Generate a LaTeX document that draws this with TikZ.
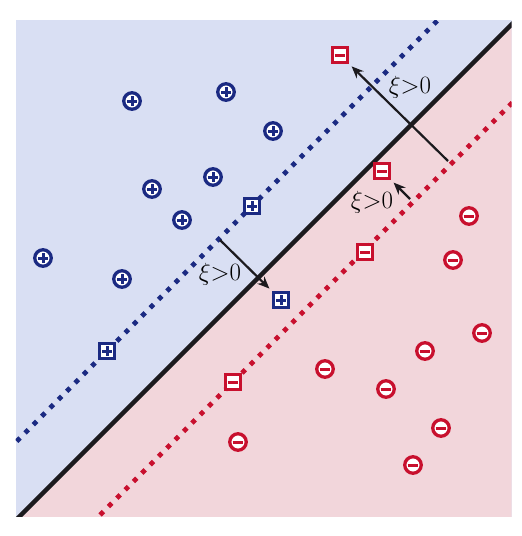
\documentclass[tikz,border=0pt]{standalone}
\usetikzlibrary{arrows.meta}
\definecolor{navyc}{RGB}{27,42,130}
\definecolor{redc}{RGB}{200,16,46}
\definecolor{bluebg}{RGB}{217,223,243}
\definecolor{pinkbg}{RGB}{242,214,219}
\definecolor{blk}{RGB}{28,26,30}
\tikzset{
  posc/.style={circle, draw=navyc, line width=3.3pt, fill=white, minimum size=16.5pt, inner sep=0pt,
    path picture={\draw[navyc, line width=3pt] ([xshift=-4.8pt]path picture bounding box.center) -- ([xshift=4.8pt]path picture bounding box.center);
                  \draw[navyc, line width=3pt] ([yshift=-4.8pt]path picture bounding box.center) -- ([yshift=4.8pt]path picture bounding box.center);}},
  negc/.style={circle, draw=redc, line width=3.3pt, fill=white, minimum size=16.5pt, inner sep=0pt,
    path picture={\draw[redc, line width=3pt] ([xshift=-5.4pt]path picture bounding box.center) -- ([xshift=5.4pt]path picture bounding box.center);}},
  poss/.style={rectangle, draw=navyc, line width=3pt, fill=white, minimum size=14.5pt, inner sep=0pt,
    path picture={\draw[navyc, line width=3pt] ([xshift=-4.8pt]path picture bounding box.center) -- ([xshift=4.8pt]path picture bounding box.center);
                  \draw[navyc, line width=3pt] ([yshift=-4.8pt]path picture bounding box.center) -- ([yshift=4.8pt]path picture bounding box.center);}},
  negs/.style={rectangle, draw=redc, line width=3pt, fill=white, minimum size=14.5pt, inner sep=0pt,
    path picture={\draw[redc, line width=3pt] ([xshift=-5.2pt]path picture bounding box.center) -- ([xshift=5.2pt]path picture bounding box.center);}},
  margin/.style={line width=4.7pt, dash pattern=on 4.7pt off 7.1pt},
  slack/.style={blk, line width=2.2pt, -{Stealth[length=12pt,width=10pt]}, shorten >=4pt},
  lbl/.style={inner sep=0pt, font=\fontsize{26}{30}\selectfont}
}
\begin{document}
\begin{tikzpicture}[x=1pt,y=-1pt]
\useasboundingbox (0,0) rectangle (522,536);
\begin{scope}
  \clip (15.5,20) rectangle (511.7,516.5);
  \fill[bluebg] (15.5,20) rectangle (511.7,516.5);
  \fill[pinkbg] (0,536) -- (536,0) -- (600,0) -- (600,600) -- (0,600) -- cycle;
  \draw[navyc, margin] (0,458) -- (458,0);
  \draw[redc, margin] (0,615) -- (615,0);
  \draw[blk, line width=4.5pt] (0,536) -- (536,0);
\end{scope}
% positive circles
\node[posc] (p1) at (132,101) {};
\node[posc] (p2) at (226,92) {};
\node[posc] (p3) at (273,131) {};
\node[posc] (p4) at (213,177) {};
\node[posc] (p5) at (152,189) {};
\node[posc] (p6) at (182,220) {};
\node[posc] (p7) at (43,258) {};
\node[posc] (p8) at (122,279) {};
% negative circles
\node[negc] (n1) at (469,216) {};
\node[negc] (n2) at (453,260) {};
\node[negc] (n3) at (482,333) {};
\node[negc] (n4) at (425,351) {};
\node[negc] (n5) at (325,369) {};
\node[negc] (n6) at (386,389) {};
\node[negc] (n7) at (441,428) {};
\node[negc] (n8) at (413,465) {};
\node[negc] (n9) at (238,442) {};
% support vectors / slack points
\node[poss] (s1) at (252,206) {};
\node[poss] (s2) at (107,351) {};
\node[poss] (s3) at (281,300) {};
\node[negs] (r1) at (340,55) {};
\node[negs] (r2) at (382,171) {};
\node[negs] (r3) at (365,252) {};
\node[negs] (r4) at (233,382) {};
% slack arrows
\coordinate (a1) at (448,161);
\coordinate (a2) at (410,199);
\coordinate (a3) at (220,240);
\draw[slack] (a1) -- (r1);
\draw[slack] (a2) -- (r2);
\draw[slack] (a3) -- (s3);
\node[lbl] (l1) at (410,87) {$\xi{>}0$};
\node[lbl] (l2) at (372,202) {$\xi{>}0$};
\node[lbl] (l3) at (220,274) {$\xi{>}0$};
\end{tikzpicture}
\end{document}
